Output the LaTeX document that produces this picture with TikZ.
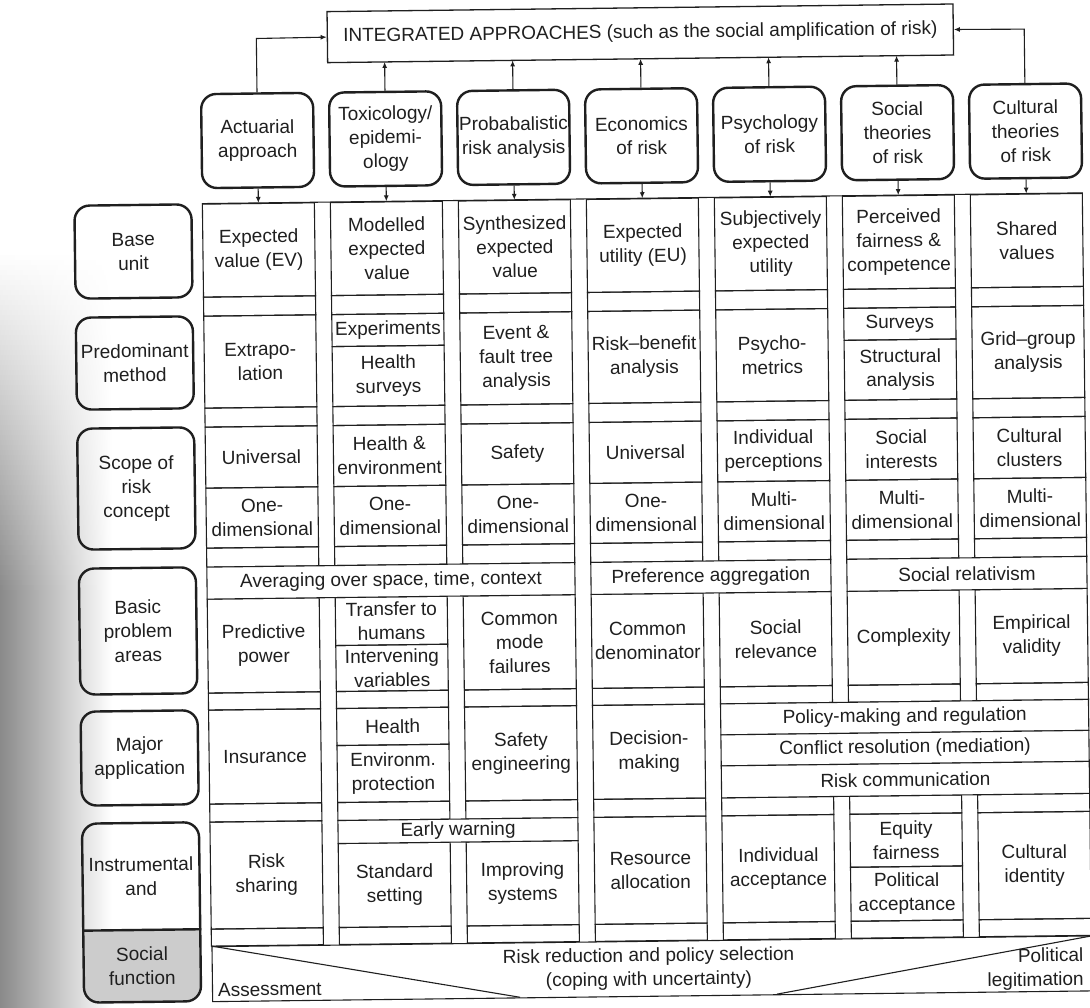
\documentclass[tikz,border=0pt]{standalone}
\usepackage{fontspec}
\setmainfont{Liberation Sans}
\usetikzlibrary{arrows.meta}
\definecolor{ink}{gray}{0.12}

% a table cell in column #2 (1..7) between rows #3 and #4
\newcommand\tcell[5]{%
  \node[cellbox, minimum width=112pt, minimum height={(#4)-(#3)}]
    (#1) at ({134+128*#2},{((#3)+(#4))/2}) {#5};}
% a band across several columns: left #2, right #3, top #4, bottom #5
\newcommand\tband[6]{%
  \node[band, minimum width={(#3)-(#2)}, minimum height={(#5)-(#4)}]
    (#1) at ({((#2)+(#3))/2},{((#4)+(#5))/2}) {#6};}
% a row label on the left: top #2, bottom #3
\newcommand\tlabel[4]{%
  \node[roundbox, minimum width=117pt, minimum height={(#3)-(#2)}]
    (#1) at (136.5,{((#2)+(#3))/2}) {#4};}

\begin{document}
\begin{tikzpicture}[x=1pt,y=-1pt,
  every node/.style={text=ink, font=\fontsize{19}{24}\selectfont},
  cellbox/.style={draw=ink, line width=1.1pt, inner sep=0pt, align=center},
  band/.style={cellbox, fill=white},
  roundbox/.style={draw=ink, line width=2.4pt, rounded corners=15pt,
                   inner sep=0pt, align=center},
  arr/.style={draw=ink, line width=1.1pt, -{Latex[length=6pt,width=5pt]}},
  link/.style={draw=ink, line width=1.1pt},
]
\fill[white] (0,0) rectangle (1090,1007);
\useasboundingbox (0,0) rectangle (1090,1007);

% shadow of the page gutter along the left edge, darkening downwards
\foreach \i in {0,...,151} {
  \pgfmathsetmacro\k{min(46,46*\i/68)}
  \shade[left color=black!\k, right color=white]
    (0,{250+5*\i}) rectangle (112,{256+5*\i});
}

\begin{scope}
\clip (0,0) rectangle (1090,1007);
\begin{scope}[rotate around={0.7:(545,500)}, transform shape]

% ---------- integrated approaches and the seven perspectives ----------
\node[draw=ink, line width=1.3pt, minimum width=626pt, minimum height=51pt,
      inner sep=0pt] (top) at (646,34.5)
  {INTEGRATED APPROACHES (such as the social amplification of risk)};

\node[roundbox, minimum width=112pt, minimum height=94pt] (h1) at (262,137) {Actuarial\\approach};
\node[roundbox, minimum width=112pt, minimum height=94pt] (h2) at (390,137) {Toxicology/\\epidemi-\\ology};
\node[roundbox, minimum width=112pt, minimum height=94pt] (h3) at (518,137) {Probabalistic\\risk analysis};
\node[roundbox, minimum width=112pt, minimum height=94pt] (h4) at (646,137) {Economics\\of risk};
\node[roundbox, minimum width=112pt, minimum height=94pt] (h5) at (774,137) {Psychology\\of risk};
\node[roundbox, minimum width=112pt, minimum height=94pt] (h6) at (902,137) {Social\\theories\\of risk};
\node[roundbox, minimum width=112pt, minimum height=94pt] (h7) at (1030,137) {Cultural\\theories\\of risk};

\coordinate (t2) at (390,60);
\coordinate (t3) at (518,60);
\coordinate (t4) at (646,60);
\coordinate (t5) at (774,60);
\coordinate (t6) at (902,60);
\coordinate (eL) at (262,35);
\coordinate (eR) at (1030,35);

\draw[arr] (h1.north) -- (eL) -- (top.west);
\draw[arr] (h7.north) -- (eR) -- (top.east);
\foreach \n in {2,...,6} { \draw[arr] (h\n.north) -- (t\n); }

% ---------- row labels ----------
\tlabel{lb}{200}{293}{Base\\unit}
\tlabel{lm}{312}{404}{Predominant\\method}
\tlabel{ls}{423}{544}{Scope of\\risk\\concept}
\tlabel{lp}{563}{689}{Basic\\problem\\areas}
\tlabel{la}{706}{800}{Major\\application}
\begin{scope}
  \clip[rounded corners=15pt] (78,818) rectangle (195,997);
  \fill[black!20] (78,925) rectangle (195,997);
\end{scope}
\node[roundbox, minimum width=117pt, minimum height=179pt] (lf) at (136.5,907.5) {};
\draw[draw=ink, line width=2.4pt] (lf.west |- 0,925) coordinate (lfw) -- (lf.east |- 0,925) coordinate (lfe);
\node[align=center, inner sep=0pt] (lf1) at (136.5,871.5) {Instrumental\\and};
\node[align=center, inner sep=0pt] (lf2) at (136.5,961) {Social\\function};

% ---------- column 1: actuarial ----------
\tcell{c1b}{1}{200}{293}{Expected\\value (EV)}
\tcell{c1s1}{1}{293}{312}{}
\tcell{c1m}{1}{312}{404}{Extrapo-\\lation}
\tcell{c1s2}{1}{404}{423}{}
\tcell{c1k}{1}{423}{484}{Universal}
\tcell{c1d}{1}{484}{544}{One-\\dimensional}
\tcell{c1s3}{1}{544}{563}{}
\tcell{c1p}{1}{595}{689}{Predictive\\power}
\tcell{c1s4}{1}{689}{706}{}
\tcell{c1a}{1}{706}{800}{Insurance}
\tcell{c1s5}{1}{800}{818}{}
\tcell{c1i}{1}{818}{925}{Risk\\sharing}
\tcell{c1s6}{1}{925}{942}{}

% ---------- column 2: toxicology / epidemiology ----------
\tcell{c2b}{2}{200}{293}{Modelled\\expected\\value}
\tcell{c2s1}{2}{293}{312}{}
\tcell{c2m1}{2}{312}{344}{Experiments}
\tcell{c2m2}{2}{344}{404}{Health\\surveys}
\tcell{c2s2}{2}{404}{423}{}
\tcell{c2k}{2}{423}{484}{Health \&\\environment}
\tcell{c2d}{2}{484}{544}{One-\\dimensional}
\tcell{c2s3}{2}{544}{563}{}
\tcell{c2p1}{2}{595}{643}{Transfer to\\humans}
\tcell{c2p2}{2}{643}{689}{Intervening\\variables}
\tcell{c2s4}{2}{689}{706}{}
\tcell{c2a1}{2}{706}{743}{Health}
\tcell{c2a2}{2}{743}{800}{Environm.\\protection}
\tcell{c2s5}{2}{800}{818}{}
\tcell{c2i}{2}{841}{925}{Standard\\setting}
\tcell{c2s6}{2}{925}{942}{}

% ---------- column 3: probabilistic risk analysis ----------
\tcell{c3b}{3}{200}{293}{Synthesized\\expected\\value}
\tcell{c3s1}{3}{293}{312}{}
\tcell{c3m}{3}{312}{404}{Event \&\\fault tree\\analysis}
\tcell{c3s2}{3}{404}{423}{}
\tcell{c3k}{3}{423}{484}{Safety}
\tcell{c3d}{3}{484}{544}{One-\\dimensional}
\tcell{c3s3}{3}{544}{563}{}
\tcell{c3p}{3}{595}{689}{Common\\mode\\failures}
\tcell{c3s4}{3}{689}{706}{}
\tcell{c3a}{3}{706}{800}{Safety\\engineering}
\tcell{c3s5}{3}{800}{818}{}
\tcell{c3i}{3}{841}{925}{Improving\\systems}
\tcell{c3s6}{3}{925}{942}{}

% ---------- column 4: economics ----------
\tcell{c4b}{4}{200}{293}{Expected\\utility (EU)}
\tcell{c4s1}{4}{293}{312}{}
\tcell{c4m}{4}{312}{404}{Risk–benefit\\analysis}
\tcell{c4s2}{4}{404}{423}{}
\tcell{c4k}{4}{423}{484}{Universal}
\tcell{c4d}{4}{484}{544}{One-\\dimensional}
\tcell{c4s3}{4}{544}{563}{}
\tcell{c4p}{4}{595}{689}{Common\\denominator}
\tcell{c4s4}{4}{689}{706}{}
\tcell{c4a}{4}{706}{800}{Decision-\\making}
\tcell{c4s5}{4}{800}{818}{}
\tcell{c4i}{4}{818}{925}{Resource\\allocation}
\tcell{c4s6}{4}{925}{942}{}

% ---------- column 5: psychology ----------
\tcell{c5b}{5}{200}{293}{Subjectively\\expected\\utility}
\tcell{c5s1}{5}{293}{312}{}
\tcell{c5m}{5}{312}{404}{Psycho-\\metrics}
\tcell{c5s2}{5}{404}{423}{}
\tcell{c5k}{5}{423}{484}{Individual\\perceptions}
\tcell{c5d}{5}{484}{544}{Multi-\\dimensional}
\tcell{c5s3}{5}{544}{563}{}
\tcell{c5p}{5}{595}{689}{Social\\relevance}
\tcell{c5s4}{5}{689}{706}{}
\tcell{c5s5}{5}{800}{818}{}
\tcell{c5i}{5}{818}{925}{Individual\\acceptance}
\tcell{c5s6}{5}{925}{942}{}

% ---------- column 6: social theories ----------
\tcell{c6b}{6}{200}{293}{Perceived\\fairness \&\\competence}
\tcell{c6s1}{6}{293}{312}{}
\tcell{c6m1}{6}{312}{344}{Surveys}
\tcell{c6m2}{6}{344}{404}{Structural\\analysis}
\tcell{c6s2}{6}{404}{423}{}
\tcell{c6k}{6}{423}{484}{Social\\interests}
\tcell{c6d}{6}{484}{544}{Multi-\\dimensional}
\tcell{c6s3}{6}{544}{563}{}
\tcell{c6p}{6}{595}{689}{Complexity}
\tcell{c6s4}{6}{689}{706}{}
\tcell{c6s5}{6}{800}{818}{}
\tcell{c6i1}{6}{818}{871}{Equity\\fairness}
\tcell{c6i2}{6}{871}{925}{Political\\acceptance}
\tcell{c6s6}{6}{925}{942}{}

% ---------- column 7: cultural theories ----------
\tcell{c7b}{7}{200}{293}{Shared\\values}
\tcell{c7s1}{7}{293}{312}{}
\tcell{c7m}{7}{312}{404}{Grid–group\\analysis}
\tcell{c7s2}{7}{404}{423}{}
\tcell{c7k}{7}{423}{484}{Cultural\\clusters}
\tcell{c7d}{7}{484}{544}{Multi-\\dimensional}
\tcell{c7s3}{7}{544}{563}{}
\tcell{c7p}{7}{595}{689}{Empirical\\validity}
\tcell{c7s4}{7}{689}{706}{}
\tcell{c7s5}{7}{800}{818}{}
\tcell{c7i}{7}{818}{925}{Cultural\\identity}
\tcell{c7s6}{7}{925}{942}{}

% line joining the tops of the columns
\draw[link] (c1b.north west) -- (c7b.north east);

% arrows from the perspectives into the table
\foreach \n in {1,...,7} { \draw[arr] (h\n.south) -- (c\n b.north); }

% ---------- bands spanning several columns ----------
\tband{avg}{206}{574}{563}{595}{Averaging over space, time, context}
\tband{pref}{590}{830}{563}{595}{Preference aggregation}
\tband{rel}{846}{1086}{563}{595}{Social relativism}
\tband{pol}{718}{1086}{706}{737}{Policy-making and regulation}
\tband{conf}{718}{1086}{737}{768}{Conflict resolution (mediation)}
\tband{comm}{718}{1086}{768}{800}{Risk communication}
\tband{warn}{334}{574}{818}{841}{Early warning}

% ---------- social function strip ----------
\node[cellbox, anchor=north west, minimum width=930pt, minimum height=55pt] (soc) at (206,942) {};
\coordinate (d1) at (514,997);
\coordinate (d2) at (771,997);
\draw[link] (soc.north west) -- (d1);
\draw[link] (d2) -- (c7s6.south east);
\node[anchor=west, inner sep=0pt] (assess) at (212,986) {Assessment};
\node[align=center, inner sep=0pt] (reduce) at (643,970)
  {Risk reduction and policy selection\\(coping with uncertainty)};
\node[anchor=east, align=right, inner sep=0pt] (legit) at (1078,975)
  {Political\\legitimation};

\end{scope}
\end{scope}
\end{tikzpicture}
\end{document}
